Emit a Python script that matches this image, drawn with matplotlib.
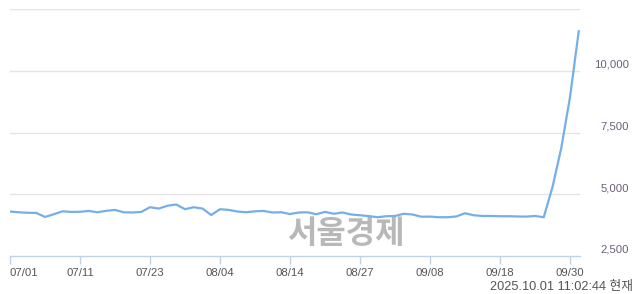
import matplotlib
matplotlib.use("Agg")
import matplotlib.pyplot as plt
import matplotlib.transforms as mtransforms
import numpy as np

# ---- data ----
prices = [4300, 4270, 4250, 4245, 4080, 4190, 4310, 4285, 4290, 4325,
          4270, 4330, 4365, 4270, 4260, 4285, 4475, 4420, 4535, 4585,
          4395, 4475, 4420, 4160, 4395, 4365, 4300, 4270, 4310, 4325,
          4260, 4270, 4200, 4260, 4270, 4190, 4285, 4210, 4260, 4180,
          4150, 4115, 4070, 4110, 4120, 4210, 4180, 4090, 4095, 4070,
          4070, 4100, 4230, 4150, 4120, 4120, 4110, 4110, 4100, 4095,
          4120, 4070, 5290, 6870, 8930, 11600]
tick_positions = [0, 8, 16, 24, 32, 40, 48, 56, 64]
tick_labels = ['07/01', '07/11', '07/23', '08/04', '08/14', '08/27', '09/08', '09/18', '09/30']
y_grid = [5000, 7500, 10000, 12500]
y_labels_vals = [2500, 5000, 7500, 10000]
stamp = '2025.10.01 11:02:44 현재'
watermark = '서울경제'

W, H = 640, 294
fig = plt.figure(figsize=(W / 100, H / 100), dpi=100)
left, right, top, bottom = 10, 580, 9, 256
ax = fig.add_axes([left / W, 1 - bottom / H, (right - left) / W, (bottom - top) / H])

x = np.arange(len(prices))
ax.set_xlim(0, (right - left) / 8.75)
ax.set_ylim(2500, 12500)

for g in y_grid:
    ax.axhline(g, color='#e4e4e4', lw=1.0, zorder=1)

ax.plot(x, prices, color='#74afe9', lw=1.6, zorder=3, solid_joinstyle='round')

for s in ['top', 'right', 'left']:
    ax.spines[s].set_visible(False)
ax.spines['bottom'].set_color('#bfd2ec')
ax.spines['bottom'].set_linewidth(1.0)

ax.set_yticks([])
ax.set_xticks(tick_positions)
ax.set_xticklabels(tick_labels, fontsize=8.2, color='#555555', family='Liberation Sans')
ax.tick_params(axis='x', direction='out', length=6, width=1, color='#bfd2ec', pad=2.5)
ax.get_xticklabels()[0].set_horizontalalignment('left')

# y labels (right side, slightly above grid lines)
trans = mtransforms.blended_transform_factory(fig.transFigure, ax.transData)
off = mtransforms.ScaledTranslation(0, 6 / 100, fig.dpi_scale_trans)
for v in y_labels_vals:
    ax.text(629 / W, v, f'{v:,}', transform=trans + off, ha='right', va='center',
            fontsize=8.2, color='#6a6078', family='Liberation Sans', clip_on=False)

# watermark
ax.text(346 / W, 1 - 234 / H, watermark, transform=fig.transFigure, ha='center', va='center',
        fontsize=23, fontweight='bold', color='#b8b8b8', family='Noto Sans CJK KR', zorder=2)

# timestamp
fig.text(633 / W, 1 - 287 / H, stamp, ha='right', va='center', fontsize=9.2, color='#555555',
         family=['Liberation Sans', 'Noto Sans CJK KR'])

fig.savefig('out.png', dpi=100)
